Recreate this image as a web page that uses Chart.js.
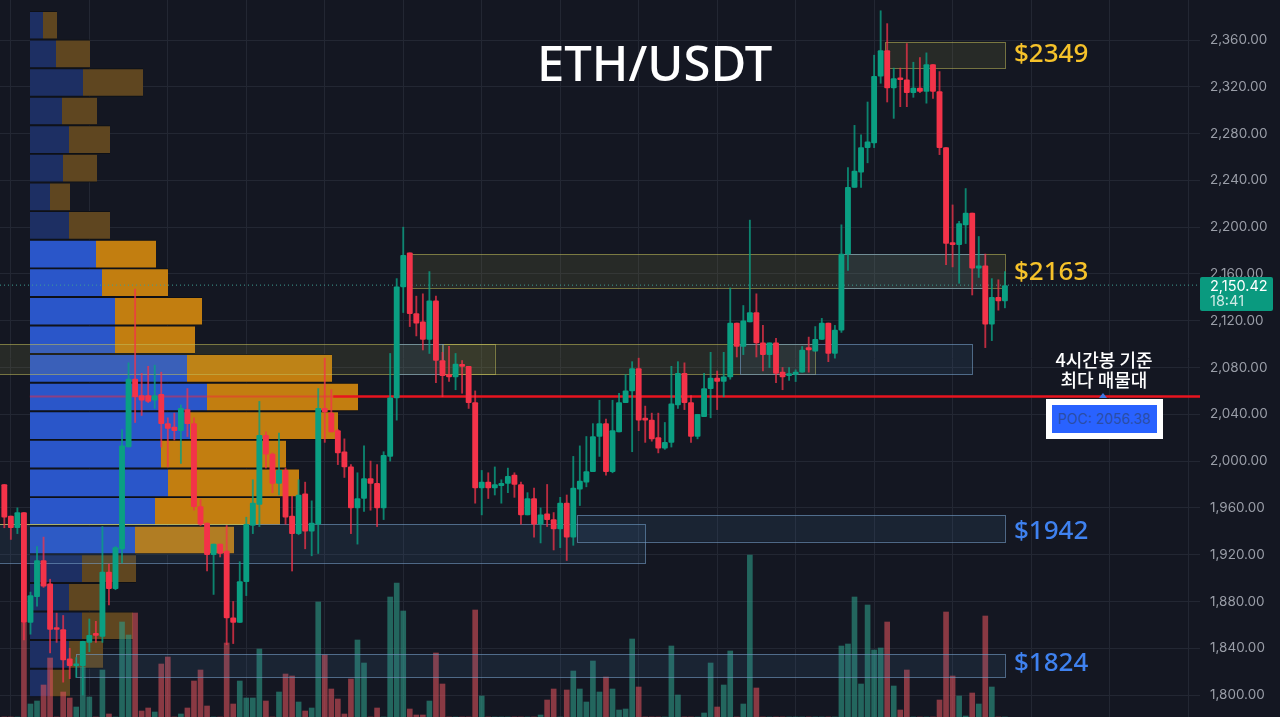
<!DOCTYPE html>
<html>
<head>
<meta charset="utf-8">
<title>ETH/USDT</title>
<script src="https://cdn.jsdelivr.net/npm/chart.js@4"></script>
<style>
html,body{margin:0;padding:0;background:#141722;overflow:hidden}
#wrap{position:relative;width:1280px;height:717px;background:#141722;overflow:hidden}
canvas{position:absolute;left:0;top:0}
.t{position:absolute;white-space:nowrap}
.lvl{font:500 26px "Noto Sans";line-height:30px;left:1014px}
#title{left:537px;top:26px;font:500 49px "Noto Sans";line-height:72px;color:#fff}
#note{left:1024px;width:160px;top:349px;text-align:center;color:#fff;font:500 18px "Noto Sans CJK KR";line-height:20px}
#poc{left:1046px;top:399px;width:105px;height:28px;border:6px solid #fff;background:#2962ff;color:#2b4da6;font:14px "Inter";line-height:28px;text-align:center}
#tri{left:1099px;top:393px;width:0;height:0;border-left:4px solid transparent;border-right:4px solid transparent;border-bottom:5px solid #3f78e6}
#tag{left:1200px;top:277px;width:73px;height:34px;background:#0a9a7f;border-radius:2px;color:#fff;font:14.5px "Inter";line-height:15px;padding-top:1px;box-sizing:border-box}
#tag div{padding-left:10px}
</style>
</head>
<body>
<div id="wrap">
<canvas id="profileCanvas" width="1280" height="717"></canvas>
<canvas id="candleCanvas" width="1280" height="717"></canvas>
<div class="t" id="title">ETH/USDT</div>
<div class="t lvl" style="top:37px;color:#f6c22a">$2349</div>
<div class="t lvl" style="top:255px;color:#f6c22a">$2163</div>
<div class="t lvl" style="top:514px;color:#3f82f0">$1942</div>
<div class="t lvl" style="top:646px;color:#3f82f0">$1824</div>
<div class="t" id="note">4시간봉 기준<br>최다 매물대</div>
<div class="t" id="tri"></div>
<div class="t" id="poc">POC: 2056.38</div>
<div class="t" id="tag"><div>2,150.42</div><div style="opacity:.8">18:41</div></div>
</div>
<script>
// candles, 4h bars
var opens = [1980,1953,1943,1956,1862,1884,1915,1895,1857,1856,1831,1825,1825,1845,1852,1850,1905,1891,1925,2012,
2070,2056,2056,2052,2057,2032,2029,2026,2044,2032,1961,1947,1920,1929,1923,1866,1862,1897,1945,1963,
2022,2006,1981,1992,1953,1938,1972,1940,1946,2045,2041,2026,2008,1995,1960,1968,1985,1981,1960,2004,
2054,2149,2178,2126,2119,2104,2137,2086,2074,2072,2082,2081,2050,1977,1982,1977,1979,1981,1988,1980,
1954,1968,1946,1955,1950,1942,1964,1935,1976,1982,1991,2021,2032,1991,2025,2050,2060,2079,2036,2035,
2020,2011,2016,2048,2075,2050,2021,2038,2062,2071,2068,2072,2118,2098,2119,2127,2101,2091,2101,2076,
2073,2074,2076,2097,2094,2104,2118,2092,2112,2177,2234,2247,2268,2272,2329,2351,2319,2327,2326,2315,
2319,2316,2339,2316,2268,2186,2185,2202,2212,2165,2167,2117,2140,2137]
var highs = [1980,1953,1960,1956,1888,1927,1935,1899,1870,1868,1840,1832,1846,1865,1863,1944,1912,1927,2027,2084,
2147,2075,2081,2082,2076,2037,2041,2048,2062,2037,1967,1947,1929,1929,1945,1880,1914,1952,1984,2051,
2025,2007,2024,1994,1970,1984,1982,1966,2062,2088,2061,2027,2019,1997,1990,2013,2000,1997,2008,2092,
2156,2200,2178,2141,2143,2162,2141,2093,2098,2092,2086,2081,2060,1992,1990,1995,1984,1994,1990,1982,
1973,1977,1960,1980,1956,1969,1971,2004,2013,2021,2032,2052,2036,2052,2058,2074,2085,2088,2047,2041,
2041,2033,2081,2085,2084,2056,2040,2075,2093,2077,2093,2148,2118,2133,2206,2143,2116,2101,2105,2080,
2080,2078,2098,2106,2115,2122,2118,2116,2202,2251,2287,2279,2307,2347,2385,2374,2336,2336,2357,2341,
2345,2349,2339,2333,2268,2219,2205,2233,2212,2192,2177,2156,2155,2162]
var lows = [1943,1933,1938,1847,1852,1876,1892,1836,1845,1811,1814,1815,1800,1837,1845,1845,1877,1890,1913,2012,
2033,2039,2050,2045,2012,1995,2018,1998,2021,1958,1945,1906,1886,1918,1843,1844,1862,1885,1938,1944,
1994,1973,1971,1946,1906,1937,1925,1919,1921,2016,2025,1997,1986,1938,1929,1957,1958,1944,1950,2000,
2035,2127,2115,2107,2095,2092,2067,2055,2068,2061,2058,2045,1964,1954,1968,1971,1964,1973,1969,1946,
1954,1935,1930,1944,1924,1926,1915,1928,1962,1978,1991,2004,1988,1990,2025,2050,2008,2026,2016,2017,
2007,2010,2012,2045,2044,2016,2019,2038,2037,2044,2055,2070,2089,2091,2119,2089,2077,2080,2067,2061,
2069,2068,2076,2076,2094,2104,2085,2088,2110,2163,2234,2234,2255,2268,2323,2307,2293,2303,2303,2311,
2315,2306,2310,2262,2168,2166,2152,2186,2142,2157,2097,2103,2129,2131]
var closes = [1952,1943,1956,1862,1885,1915,1893,1856,1856,1830,1825,1826,1846,1851,1851,1905,1891,1926,2013,2070,
2055,2052,2051,2056,2032,2028,2026,2045,2032,1961,1946,1920,1929,1921,1866,1862,1897,1946,1964,2022,
2006,1981,1992,1952,1938,1971,1940,1947,2045,2042,2025,2007,1995,1960,1968,1985,1981,1960,2005,2054,
2149,2176,2126,2118,2104,2137,2086,2073,2072,2083,2081,2050,1977,1982,1977,1980,1981,1987,1980,1954,
1968,1946,1954,1950,1942,1964,1935,1977,1983,1991,2021,2032,1991,2026,2050,2060,2079,2035,2035,2019,
2011,2016,2049,2075,2050,2021,2040,2062,2071,2068,2072,2118,2098,2120,2127,2101,2091,2101,2075,2072,
2074,2076,2095,2095,2104,2118,2092,2112,2177,2234,2248,2268,2273,2329,2351,2319,2327,2326,2315,2319,
2316,2339,2316,2268,2186,2185,2203,2212,2165,2167,2117,2140,2137,2150]
var volumes = [0,0,0,94,13,16,32,59,0,25,19,10,50,20,0,47,3,0,95,82,
104,6,9,5,53,60,0,3,9,36,47,11,0,0,74,13,36,19,19,68,
16,0,25,43,41,15,6,9,115,62,28,18,3,38,77,54,0,9,0,120,
134,106,8,2,2,16,64,33,0,0,0,0,107,21,0,0,0,0,0,0,
0,0,2,17,28,0,27,46,28,15,56,25,40,28,7,8,78,30,0,0,
0,0,71,22,0,0,0,4,54,10,32,66,0,13,162,29,0,0,0,0,
0,0,0,0,0,0,0,0,71,73,120,33,112,67,69,95,31,7,47,0,
0,0,0,17,105,41,21,1,24,13,101,30,0,0]

// volume profile rows
var rowPrices = [2372.6,2348.2,2323.7,2299.3,2274.8,2250.4,2225.9,2201.5,2177,2152.6,2128.1,2103.7,2079.2,2054.8,2030.3,2005.9,1981.4,1957,1932.5,1908.1,1883.6,1859.2,1834.7,1810.3]
var rowBuy = [13,26,53,32,39,33,20,39,66,72,85,85,157,177,160,131,138,125,105,52,39,52,39,20]
var rowSell = [14,34,60,35,41,34,20,41,60,66,87,80,145,151,148,125,131,125,99,54,33,51,34,20]
var rowInValueArea = [0,0,0,0,0,0,0,0,1,1,1,1,1,1,1,1,1,1,1,0,0,0,0,0]

// zones, in price and bar number
var zoneTop = [2358,2177,2177,2100,2100,2100,2100,1946,1954,1835,1946]
var zoneBottom = [2336,2148,2148,2074,2074,2074,2074,1913,1931,1815,1946]
var zoneFrom = [134.7,61.7,128,-1,67,112.5,60,-1,87.5,11,-1]
var zoneTo = [153,153,150,75,124,148,67,98,153,153,37]
var zoneKind = ['y','y','b','y','y','b','b','b','b','b','y']

var priceTicks = [2360,2320,2280,2240,2200,2160,2120,2080,2040,2000,1960,1920,1880,1840,1800]
var gridBars = [1,13,25,37,49,61,73,85,97,109,121,133,145,157,169,181]
var pocLevel = 2055.3
var lastPrice = 2150.42

var yMin = 1781.2, yMax = 2394.2
var xMin = -0.66, xMax = 182.83
var upColor = '#0a9f82', downColor = '#f33349'
var upWick = 'rgba(10,159,130,0.8)', downWick = 'rgba(243,51,73,0.75)'
var bars = opens.map((o, i) => i)
var isUp = opens.map((o, i) => closes[i] >= o)

function rightAxisFit(scale){
    scale.width = 80
    scale.paddingTop = 0
    scale.paddingBottom = 0
}

// grid and volume profile sit in the canvas behind the candles
new Chart(document.getElementById('profileCanvas'), {
    type: 'bar',
    data: {
        datasets: [
            {
                xAxisID: 'xv',
                yAxisID: 'y',
                data: rowBuy.map((v, i) => ({x: v, y: rowPrices[i]})),
                backgroundColor: rowInValueArea.map(a => a ? '#2a56c9' : '#1d2f63'),
                borderColor: '#0e1016',
                borderWidth: {top: 1, bottom: 1, left: 0, right: 0},
                borderSkipped: false,
                barThickness: 28
            },
            {
                xAxisID: 'xv',
                yAxisID: 'y',
                data: rowSell.map((v, i) => ({x: v, y: rowPrices[i]})),
                backgroundColor: rowInValueArea.map(a => a ? '#c27e10' : '#5f4620'),
                borderColor: '#0e1016',
                borderWidth: {top: 1, bottom: 1, left: 0, right: 0},
                borderSkipped: false,
                barThickness: 28
            }
        ]
    },
    options: {
        indexAxis: 'y',
        responsive: false,
        animation: false,
        layout: {padding: 0},
        plugins: {legend: {display: false}, tooltip: {enabled: false}},
        scales: {
            x: {
                type: 'linear', min: xMin, max: xMax, offset: false,
                afterBuildTicks: s => { s.ticks = gridBars.map(v => ({value: v})) },
                ticks: {display: false, autoSkip: false},
                border: {display: false},
                grid: {color: '#232733', drawTicks: false, offset: false}
            },
            xv: {type: 'linear', display: false, min: -30, max: 1170, stacked: true, offset: false, grid: {display: false}},
            y: {
                type: 'linear', position: 'right', min: yMin, max: yMax, stacked: true, offset: false,
                afterBuildTicks: s => { s.ticks = priceTicks.map(v => ({value: v})) },
                afterFit: rightAxisFit,
                ticks: {display: false, autoSkip: false},
                border: {display: false},
                grid: {color: '#232733', drawTicks: false, offset: false}
            }
        }
    }
})

var zonesPlugin = {
    id: 'zones',
    afterDatasetDraw(chart, args){
        if (args.index !== 0) return
        var ctx = chart.ctx, xs = chart.scales.x, ys = chart.scales.y
        ctx.save()
        zoneTop.forEach((top, i) => {
            var x0 = xs.getPixelForValue(zoneFrom[i]), x1 = xs.getPixelForValue(zoneTo[i])
            var y0 = ys.getPixelForValue(top), y1 = ys.getPixelForValue(zoneBottom[i])
            ctx.fillStyle = zoneKind[i] == 'y' ? 'rgba(170,170,80,0.13)' : 'rgba(70,120,170,0.13)'
            ctx.fillRect(x0, y0, x1 - x0, y1 - y0)
            ctx.strokeStyle = zoneKind[i] == 'y' ? 'rgba(195,190,90,0.55)' : 'rgba(115,155,195,0.62)'
            ctx.lineWidth = 1
            ctx.strokeRect(Math.round(x0) + .5, Math.round(y0) + .5, Math.round(x1 - x0), Math.round(y1 - y0))
        })
        ctx.restore()
    }
}

new Chart(document.getElementById('candleCanvas'), {
    data: {
        datasets: [
            {
                type: 'bar',
                yAxisID: 'vol',
                order: 5,
                grouped: false,
                data: volumes.map((v, i) => ({x: bars[i], y: v})),
                backgroundColor: isUp.map(u => u ? 'rgba(45,155,135,0.6)' : 'rgba(215,80,90,0.6)'),
                barThickness: 5
            },
            {
                type: 'line',
                yAxisID: 'y',
                order: 4,
                data: [{x: 50.3, y: pocLevel}, {x: xMax, y: pocLevel}],
                borderColor: '#e8141f',
                borderWidth: 2.5,
                pointRadius: 0
            },
            {
                type: 'line',
                yAxisID: 'y',
                order: 4,
                data: [{x: 3.9, y: pocLevel}, {x: 50.3, y: pocLevel}],
                borderColor: 'rgba(240,40,60,0.5)',
                borderWidth: 2,
                pointRadius: 0
            },
            {
                type: 'line',
                yAxisID: 'y',
                order: 4,
                data: [{x: xMin, y: lastPrice}, {x: xMax, y: lastPrice}],
                borderColor: '#3f9f93',
                borderWidth: 1,
                borderDash: [1, 3],
                pointRadius: 0
            },
            {
                type: 'bar',
                yAxisID: 'y',
                order: 2,
                grouped: false,
                data: lows.map((l, i) => ({x: bars[i], y: [l, highs[i]]})),
                backgroundColor: isUp.map(u => u ? upWick : downWick),
                borderSkipped: false,
                barThickness: 1.2
            },
            {
                type: 'bar',
                yAxisID: 'y',
                order: 1,
                grouped: false,
                data: opens.map((o, i) => ({x: bars[i], y: [o, closes[i]]})),
                backgroundColor: isUp.map(u => u ? upColor : downColor),
                borderSkipped: false,
                borderRadius: 1,
                minBarLength: 2,
                barThickness: 5.2
            }
        ]
    },
    options: {
        responsive: false,
        animation: false,
        layout: {padding: 0},
        plugins: {legend: {display: false}, tooltip: {enabled: false}},
        scales: {
            x: {type: 'linear', display: false, min: xMin, max: xMax, offset: false, grid: {display: false, offset: false}},
            y: {
                type: 'linear', position: 'right', min: yMin, max: yMax, offset: false,
                afterBuildTicks: s => { s.ticks = priceTicks.map(v => ({value: v})) },
                afterFit: rightAxisFit,
                border: {display: false},
                grid: {display: false, drawTicks: false},
                ticks: {
                    autoSkip: false,
                    padding: 10,
                    color: '#9a9ea8',
                    font: {family: 'Inter', size: 13.5},
                    callback: v => v.toLocaleString('en-US', {minimumFractionDigits: 2})
                }
            },
            vol: {type: 'linear', display: false, min: 0, max: 717, grid: {display: false}}
        }
    },
    plugins: [zonesPlugin]
})
</script>
</body>
</html>
